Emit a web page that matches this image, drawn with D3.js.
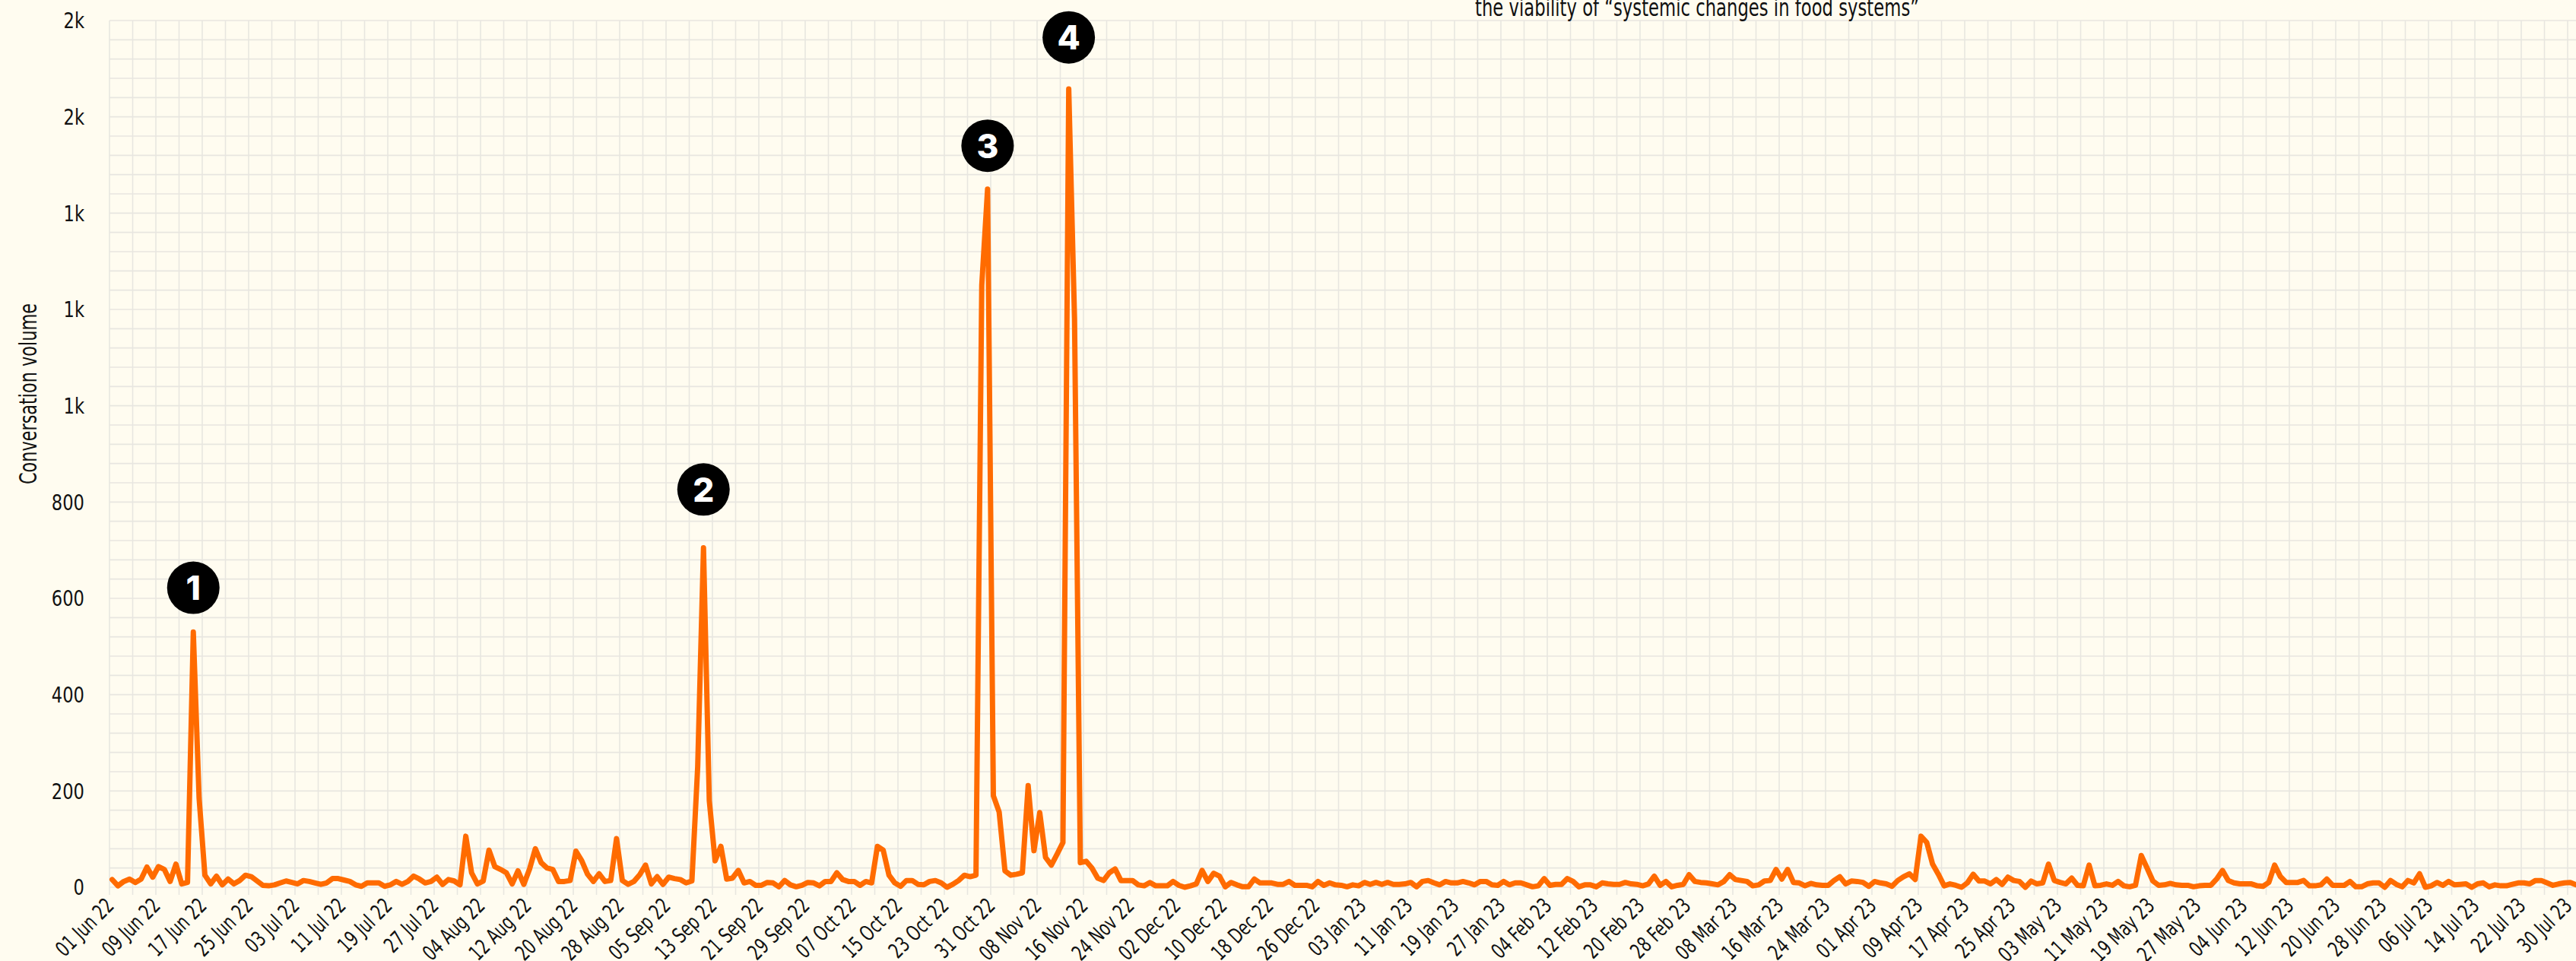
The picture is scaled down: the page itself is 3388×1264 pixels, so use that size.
<!DOCTYPE html>
<html>
<head>
<meta charset="utf-8">
<script src="https://cdn.jsdelivr.net/npm/d3@7"></script>
<style>
  body { margin: 0; background: #fffcf0; }
  svg { display: block; }
  text { font-family: "DejaVu Sans", sans-serif; fill: #111; }
  .badge text { font-family: Inter, Lato, sans-serif; font-weight: 800; fill: #fff; }
</style>
</head>
<body>
<svg id="chart"></svg>
<script>
// daily conversation volume, one value per day from 01 Jun 2022
const startDate = new Date(2022, 5, 1);
const dailyVolume = [
  // Jun 22
  16, 3, 12, 17, 10, 17, 42, 21, 43, 37, 12, 48, 7, 10, 530, 185, 25, 7, 23, 5, 17, 7, 14, 25, 22, 13, 4, 3, 5, 9,
  // Jul 22
  13, 10, 7, 14, 12, 9, 6, 9, 18, 18, 15, 12, 5, 2, 9, 9, 9, 2, 5, 12, 6, 12, 23, 17, 9, 12, 21, 6, 16, 13, 5,
  // Aug 22
  106, 30, 7, 13, 77, 43, 37, 30, 7, 34, 6, 38, 80, 51, 40, 37, 12, 12, 14, 75, 55, 27, 12, 28, 12, 14, 101, 14, 6, 12, 26,
  // Sep 22
  46, 7, 22, 6, 21, 18, 16, 9, 13, 250, 705, 180, 55, 85, 17, 19, 35, 9, 12, 4, 4, 10, 9, 1, 14, 5, 1, 4, 10, 9,
  // Oct 22
  3, 12, 12, 30, 16, 12, 12, 4, 12, 9, 85, 77, 25, 9, 2, 14, 14, 6, 5, 12, 14, 9, 0, 6, 14, 25, 22, 25, 1250, 1450, 190,
  // Nov 22
  156, 34, 25, 27, 30, 211, 76, 155, 62, 46, 69, 93, 1658, 1180, 51, 54, 40, 19, 14, 30, 38, 14, 14, 14, 5, 3, 10, 3, 3, 3,
  // Dec 22
  12, 4, 0, 3, 7, 35, 12, 29, 23, 1, 10, 5, 1, 1, 17, 9, 9, 9, 6, 6, 12, 4, 4, 4, 1, 12, 4, 9, 5, 4, 1,
  // Jan 23
  5, 3, 10, 6, 10, 6, 10, 6, 6, 7, 10, 1, 12, 14, 9, 5, 12, 9, 9, 12, 9, 5, 12, 12, 5, 4, 12, 5, 9, 9, 5,
  // Feb 23
  1, 3, 18, 4, 6, 6, 18, 12, 1, 5, 5, 1, 9, 7, 6, 6, 10, 7, 6, 3, 7, 23, 4, 12, 1, 4, 6, 26,
  // Mar 23
  12, 10, 9, 7, 5, 12, 26, 16, 14, 12, 3, 5, 13, 14, 37, 17, 37, 10, 9, 3, 8, 5, 4, 4, 14, 22, 7, 13, 12, 10, 2,
  // Apr 23
  12, 9, 7, 2, 14, 22, 28, 16, 106, 93, 48, 27, 3, 7, 4, 0, 9, 27, 13, 13, 7, 16, 6, 21, 14, 12, 0, 13, 7, 9,
  // May 23
  48, 14, 10, 7, 19, 4, 3, 46, 3, 4, 7, 4, 12, 3, 1, 4, 66, 40, 13, 4, 5, 8, 5, 4, 4, 1, 3, 4, 4, 17, 35,
  // Jun 23
  14, 9, 7, 7, 7, 3, 2, 10, 46, 22, 10, 10, 10, 14, 3, 3, 5, 17, 4, 4, 4, 12, 1, 1, 7, 9, 9, 0, 14, 6,
  // Jul 23
  1, 14, 9, 28, 0, 3, 10, 4, 12, 5, 6, 7, 0, 7, 9, 1, 5, 3, 3, 6, 9, 9, 7, 14, 14, 9, 4, 7, 9, 10, 5,
  // Aug 23
  6
];

const yTicks = [0, 200, 400, 600, 800, 1000, 1200, 1400, 1600, 1800];
// numbered markers; "at" is the volume level the marker is centred on
const annotations = [
  { date: '2022-06-15', label: '1', at: 622 },
  { date: '2022-09-11', label: '2', at: 826 },
  { date: '2022-10-30', label: '3', at: 1540 },
  { date: '2022-11-13', label: '4', at: 1765 }
];
const titleLine = 'the viability of \u201csystemic changes in food systems\u201d';
const yLabel = 'Conversation volume';

const width = 3388;
const height = 1264;
const margin = { left: 144, top: 27, bottom: 97 };
const pxPerDay = 7.625;

const parseDay = d3.timeParse('%Y-%m-%d');
const data = dailyVolume.map((v, i) => ({ date: d3.timeDay.offset(startDate, i), value: v }));
const endDate = d3.timeDay.offset(startDate, dailyVolume.length);

const x = d3.scaleTime()
  .domain([startDate, endDate])
  .range([margin.left, margin.left + dailyVolume.length * pxPerDay]);
const y = d3.scaleLinear()
  .domain([0, 1800])
  .range([height - margin.bottom, margin.top]);

// points sit around mid-day, grid lines at midnight
const px = (d) => x(d3.timeHour.offset(d, 11));

const svg = d3.select('#chart').attr('width', width).attr('height', height);

// grid
const grid = svg.append('g').attr('stroke', '#e8e6e0').attr('stroke-width', 1.6);
grid.selectAll('.hl')
  .data(d3.range(0, 1801, 40))
  .join('line')
  .attr('x1', margin.left).attr('x2', width)
  .attr('y1', (d) => y(d)).attr('y2', (d) => y(d));
grid.selectAll('.vl')
  .data(d3.timeDay.range(startDate, endDate, 4))
  .join('line')
  .attr('x1', (d) => x(d)).attr('x2', (d) => x(d))
  .attr('y1', y(1800)).attr('y2', y(0) + 10);

// y axis labels
svg.append('g')
  .selectAll('text')
  .data(yTicks)
  .join('text')
  .attr('transform', (d) => `translate(111,${y(d)}) scale(0.78,1)`)
  .attr('dy', '0.36em')
  .attr('text-anchor', 'end')
  .attr('font-size', 29)
  .text(d3.format('.0s'));

svg.append('text')
  .attr('transform', 'translate(48,518) rotate(-90) scale(0.7,1)')
  .attr('text-anchor', 'middle')
  .attr('font-size', 32)
  .text(yLabel);

// x axis labels
const xAxis = d3.axisBottom(x)
  .tickValues(d3.timeDay.range(startDate, endDate, 8))
  .tickFormat(d3.timeFormat('%d %b %y'))
  .tickSize(0);
const gx = svg.append('g').attr('transform', `translate(0,${y(0)})`).call(xAxis);
gx.select('.domain').remove();
gx.selectAll('text')
  .attr('font-family', null)
  .attr('font-size', 28)
  .attr('fill', '#111')
  .attr('text-anchor', 'end')
  .attr('y', 0).attr('dy', 0)
  .attr('transform', 'translate(7,26) rotate(-45) scale(0.71,1)');

// line
svg.append('path')
  .datum(data)
  .attr('fill', 'none')
  .attr('stroke', '#ff6b00')
  .attr('stroke-width', 7)
  .attr('stroke-linejoin', 'round')
  .attr('stroke-linecap', 'round')
  .attr('d', d3.line().x((d) => px(d.date)).y((d) => y(d.value)));

// numbered markers above the peaks
const badge = svg.append('g').attr('class', 'badge')
  .selectAll('g')
  .data(annotations)
  .join('g')
  .attr('transform', (d) => `translate(${px(parseDay(d.date))},${y(d.at)})`);
badge.append('circle').attr('r', 34.5).attr('fill', '#000');
badge.append('text')
  .attr('text-anchor', 'middle')
  .attr('dy', '0.36em')
  .attr('font-size', 44)
  .text((d) => d.label);

// title line (upper lines sit above the visible area)
svg.append('text')
  .attr('transform', 'translate(2232,21) scale(0.71,1)')
  .attr('text-anchor', 'middle')
  .attr('font-size', 32)
  .text(titleLine);
</script>
</body>
</html>
